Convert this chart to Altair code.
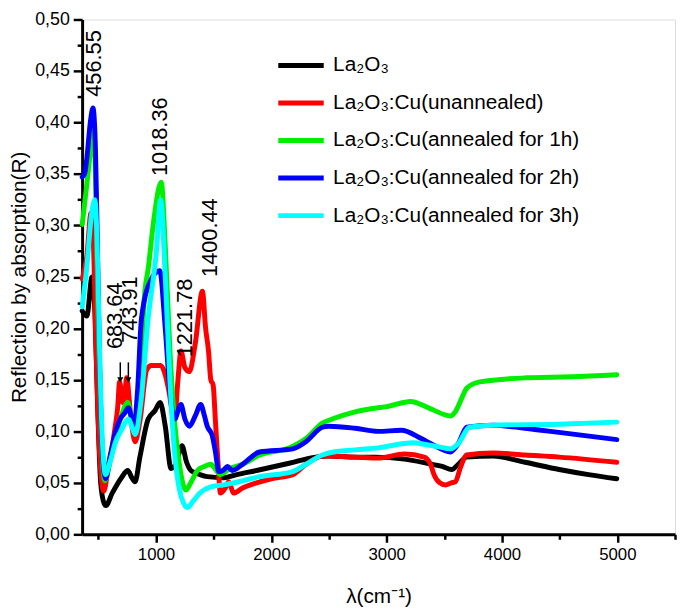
import altair as alt
import pandas as pd

FONT = "Liberation Sans"

series_names = [
    "La₂O₃",
    "La₂O₃:Cu(unannealed)",
    "La₂O₃:Cu(annealed for 1h)",
    "La₂O₃:Cu(annealed for 2h)",
    "La₂O₃:Cu(annealed for 3h)",
]
series_colors = ["#000000", "#ff0000", "#00ee00", "#0000ff", "#00ffff"]

black_x = [360, 400, 445, 470, 495, 520, 550, 565, 620, 700, 755, 790, 818, 860, 932, 990, 1035, 1080, 1130, 1160, 1190, 1225, 1265, 1302, 1380, 1444, 1587, 1700, 1872, 2154, 2385, 2496, 2726, 2900, 3154, 3350, 3480, 3564, 3620, 3692, 3923, 4200, 4496, 4750, 4995]
black_y = [0.217, 0.212, 0.250, 0.215, 0.120, 0.050, 0.030, 0.028, 0.040, 0.055, 0.062, 0.055, 0.051, 0.075, 0.112, 0.120, 0.128, 0.105, 0.064, 0.066, 0.075, 0.086, 0.070, 0.062, 0.058, 0.056, 0.055, 0.058, 0.062, 0.069, 0.075, 0.076, 0.075, 0.075, 0.073, 0.069, 0.066, 0.063, 0.068, 0.075, 0.076, 0.070, 0.063, 0.058, 0.054]

red_x = [360, 400, 436, 455, 480, 510, 547, 580, 640, 668, 684, 712, 730, 744, 785, 818, 860, 920, 960, 1040, 1080, 1110, 1160, 1190, 1216, 1250, 1288, 1340, 1402, 1430, 1455, 1475, 1495, 1515, 1540, 1558, 1600, 1630, 1673, 1750, 1872, 2000, 2185, 2300, 2442, 2496, 2726, 2923, 3154, 3325, 3380, 3410, 3460, 3510, 3560, 3595, 3640, 3692, 3923, 4200, 4496, 4995]
red_y = [0.248, 0.270, 0.312, 0.290, 0.180, 0.080, 0.042, 0.060, 0.100, 0.124, 0.148, 0.128, 0.135, 0.152, 0.110, 0.090, 0.110, 0.160, 0.164, 0.164, 0.155, 0.140, 0.110, 0.150, 0.178, 0.162, 0.158, 0.185, 0.236, 0.200, 0.178, 0.150, 0.145, 0.110, 0.065, 0.040, 0.045, 0.051, 0.040, 0.045, 0.050, 0.054, 0.058, 0.068, 0.076, 0.076, 0.075, 0.074, 0.078, 0.075, 0.068, 0.058, 0.050, 0.048, 0.050, 0.051, 0.065, 0.077, 0.079, 0.077, 0.075, 0.070]

green_x = [360, 400, 440, 460, 480, 500, 525, 555, 600, 650, 700, 755, 790, 818, 860, 903, 932, 980, 1045, 1080, 1120, 1160, 1200, 1259, 1300, 1359, 1420, 1473, 1510, 1558, 1640, 1750, 1897, 2157, 2300, 2442, 2527, 2726, 2926, 3000, 3209, 3300, 3400, 3552, 3600, 3650, 3695, 3809, 4208, 4600, 4995]
green_y = [0.301, 0.340, 0.380, 0.395, 0.320, 0.200, 0.100, 0.052, 0.070, 0.095, 0.115, 0.128, 0.110, 0.102, 0.150, 0.236, 0.258, 0.305, 0.342, 0.280, 0.180, 0.110, 0.070, 0.043, 0.050, 0.062, 0.066, 0.068, 0.064, 0.058, 0.064, 0.068, 0.077, 0.084, 0.093, 0.108, 0.112, 0.119, 0.123, 0.124, 0.129, 0.126, 0.121, 0.115, 0.120, 0.132, 0.142, 0.148, 0.152, 0.153, 0.155]

blue_x = [360, 380, 400, 430, 453, 470, 490, 510, 535, 562, 600, 650, 690, 730, 760, 790, 810, 840, 874, 960, 1032, 1080, 1120, 1160, 1216, 1250, 1288, 1340, 1387, 1420, 1444, 1487, 1515, 1544, 1580, 1620, 1660, 1750, 1897, 2185, 2300, 2442, 2498, 2726, 2926, 3126, 3300, 3400, 3552, 3620, 3695, 3923, 4200, 4493, 4995]
blue_y = [0.347, 0.350, 0.365, 0.400, 0.414, 0.390, 0.290, 0.170, 0.080, 0.054, 0.075, 0.100, 0.112, 0.118, 0.123, 0.112, 0.105, 0.140, 0.210, 0.248, 0.256, 0.200, 0.140, 0.112, 0.126, 0.112, 0.105, 0.115, 0.126, 0.115, 0.105, 0.096, 0.080, 0.061, 0.062, 0.066, 0.062, 0.068, 0.080, 0.083, 0.090, 0.104, 0.105, 0.103, 0.100, 0.101, 0.093, 0.087, 0.080, 0.088, 0.104, 0.106, 0.103, 0.099, 0.092]

cyan_x = [360, 400, 440, 470, 490, 510, 535, 562, 600, 650, 703, 760, 790, 818, 870, 932, 1003, 1040, 1080, 1120, 1160, 1200, 1240, 1273, 1320, 1380, 1473, 1587, 1750, 1897, 2185, 2300, 2442, 2498, 2726, 2926, 3226, 3350, 3450, 3552, 3620, 3718, 3923, 4493, 4995]
cyan_y = [0.221, 0.260, 0.310, 0.325, 0.280, 0.180, 0.090, 0.058, 0.070, 0.090, 0.102, 0.112, 0.105, 0.097, 0.130, 0.210, 0.274, 0.325, 0.250, 0.150, 0.080, 0.045, 0.030, 0.026, 0.032, 0.040, 0.046, 0.048, 0.052, 0.056, 0.061, 0.068, 0.077, 0.079, 0.082, 0.084, 0.089, 0.087, 0.085, 0.083, 0.088, 0.104, 0.106, 0.107, 0.109]

ann_labels = ["456.55", "683.64", "743.91", "1018.36", "1221.78", "1400.44"]
ann_x = [462, 641, 778, 1034, 1256, 1470]
ann_y = [0.425, 0.180, 0.186, 0.348, 0.172, 0.250]

arrow_x = [690, 760]
arrow_top = [0.167, 0.167]
arrow_bottom = [0.150, 0.150]

x_major = [1000, 2000, 3000, 4000, 5000]
x_minor = [500, 1500, 2500, 3500, 4500, 5500]
y_major = [0.0, 0.05, 0.10, 0.15, 0.20, 0.25, 0.30, 0.35, 0.40, 0.45, 0.50]
y_minor = [0.025, 0.075, 0.125, 0.175, 0.225, 0.275, 0.325, 0.375, 0.425, 0.475]

all_x = [black_x, red_x, green_x, blue_x, cyan_x]
all_y = [black_y, red_y, green_y, blue_y, cyan_y]
rows = []
for name, xs, ys in zip(series_names, all_x, all_y):
    for xv, yv in zip(xs, ys):
        rows.append({"series": name, "wn": xv, "R": yv})
df = pd.DataFrame(rows)

ann_df = pd.DataFrame({"label": ann_labels, "wn": ann_x, "R": ann_y})
arr_df = pd.DataFrame({"wn": arrow_x, "top": arrow_top, "bottom": arrow_bottom})

xscale = alt.Scale(domain=[359, 5500], nice=False, zero=False)
yscale = alt.Scale(domain=[0, 0.5], nice=False, zero=True)
cscale = alt.Scale(domain=series_names, range=series_colors)

x_axis_major = alt.Axis(
    values=x_major, tickSize=8, tickWidth=2.5, domainWidth=3, domainColor="black",
    tickColor="black", labelFontSize=17, labelFont=FONT, labelColor="black",
    labelPadding=4, title="λ(cm⁻¹)", titleFont=FONT, titleFontSize=21,
    titleFontWeight="normal", titleColor="black", titlePadding=24, grid=False,
    format="d",
)
y_axis_major = alt.Axis(
    values=y_major, tickSize=9, tickWidth=2.5, domainWidth=3, domainColor="black",
    tickColor="black", labelFontSize=18, labelFont=FONT, labelColor="black",
    labelPadding=4, labelExpr="replace(format(datum.value, '.2f'), '.', ',')",
    title="Reflection by absorption(R)", titleFont=FONT, titleFontSize=21,
    titleFontWeight="normal", titleColor="black", titleX=-74, titleBaseline="top",
    grid=False,
)
x_axis_minor = alt.Axis(
    values=x_minor, tickSize=5, tickWidth=2.5, domain=False, labels=False,
    title=None, grid=False, orient="bottom", tickColor="black",
)
y_axis_minor = alt.Axis(
    values=y_minor, tickSize=5, tickWidth=2.5, domain=False, labels=False,
    title=None, grid=False, orient="left", tickColor="black",
)

layers = []
for i, name in enumerate(series_names):
    layer = alt.Chart(df).transform_filter(
        alt.datum.series == name
    ).mark_line(strokeWidth=5, interpolate="monotone", strokeJoin="round", strokeCap="round").encode(
        x=alt.X("wn:Q", scale=xscale, axis=x_axis_major if i == 0 else None),
        y=alt.Y("R:Q", scale=yscale, axis=y_axis_major if i == 0 else None),
        color=alt.Color(
            "series:N", scale=cscale,
            legend=alt.Legend(
                title=None, orient="none", legendX=196, legendY=21,
                symbolType="stroke", symbolStrokeWidth=5, symbolSize=2116,
                labelFontSize=21, labelFont=FONT, labelColor="black",
                rowPadding=2, labelOffset=7, labelLimit=400,
            ) if i == 0 else None,
        ),
    )
    layers.append(layer)

text_layer = alt.Chart(ann_df).mark_text(
    angle=270, align="left", baseline="middle", fontSize=22, font=FONT, color="black"
).encode(
    x=alt.X("wn:Q", scale=xscale, axis=x_axis_minor),
    y=alt.Y("R:Q", scale=yscale, axis=y_axis_minor),
    text="label:N",
)

arrow_rule = alt.Chart(arr_df).mark_rule(color="black", strokeWidth=1.5).encode(
    x=alt.X("wn:Q", scale=xscale, axis=None),
    y=alt.Y("top:Q", scale=yscale, axis=None),
    y2="bottom:Q",
)
arrow_head = alt.Chart(arr_df).mark_point(
    shape="triangle-down", filled=True, color="black", size=40, opacity=1
).encode(
    x=alt.X("wn:Q", scale=xscale, axis=None),
    y=alt.Y("bottom:Q", scale=yscale, axis=None),
)

chart = alt.layer(*layers, text_layer, arrow_rule, arrow_head).resolve_axis(
    x="independent", y="independent"
).properties(
    width=600, height=521,
    autosize=alt.AutoSizeParams(type="none"),
    padding={"left": 75, "top": 8, "right": 2, "bottom": 78},
).configure_view(
    stroke="black", strokeWidth=3
).configure(background="white")

chart.save("out.html", embed_options={"renderer": "svg", "actions": False})
